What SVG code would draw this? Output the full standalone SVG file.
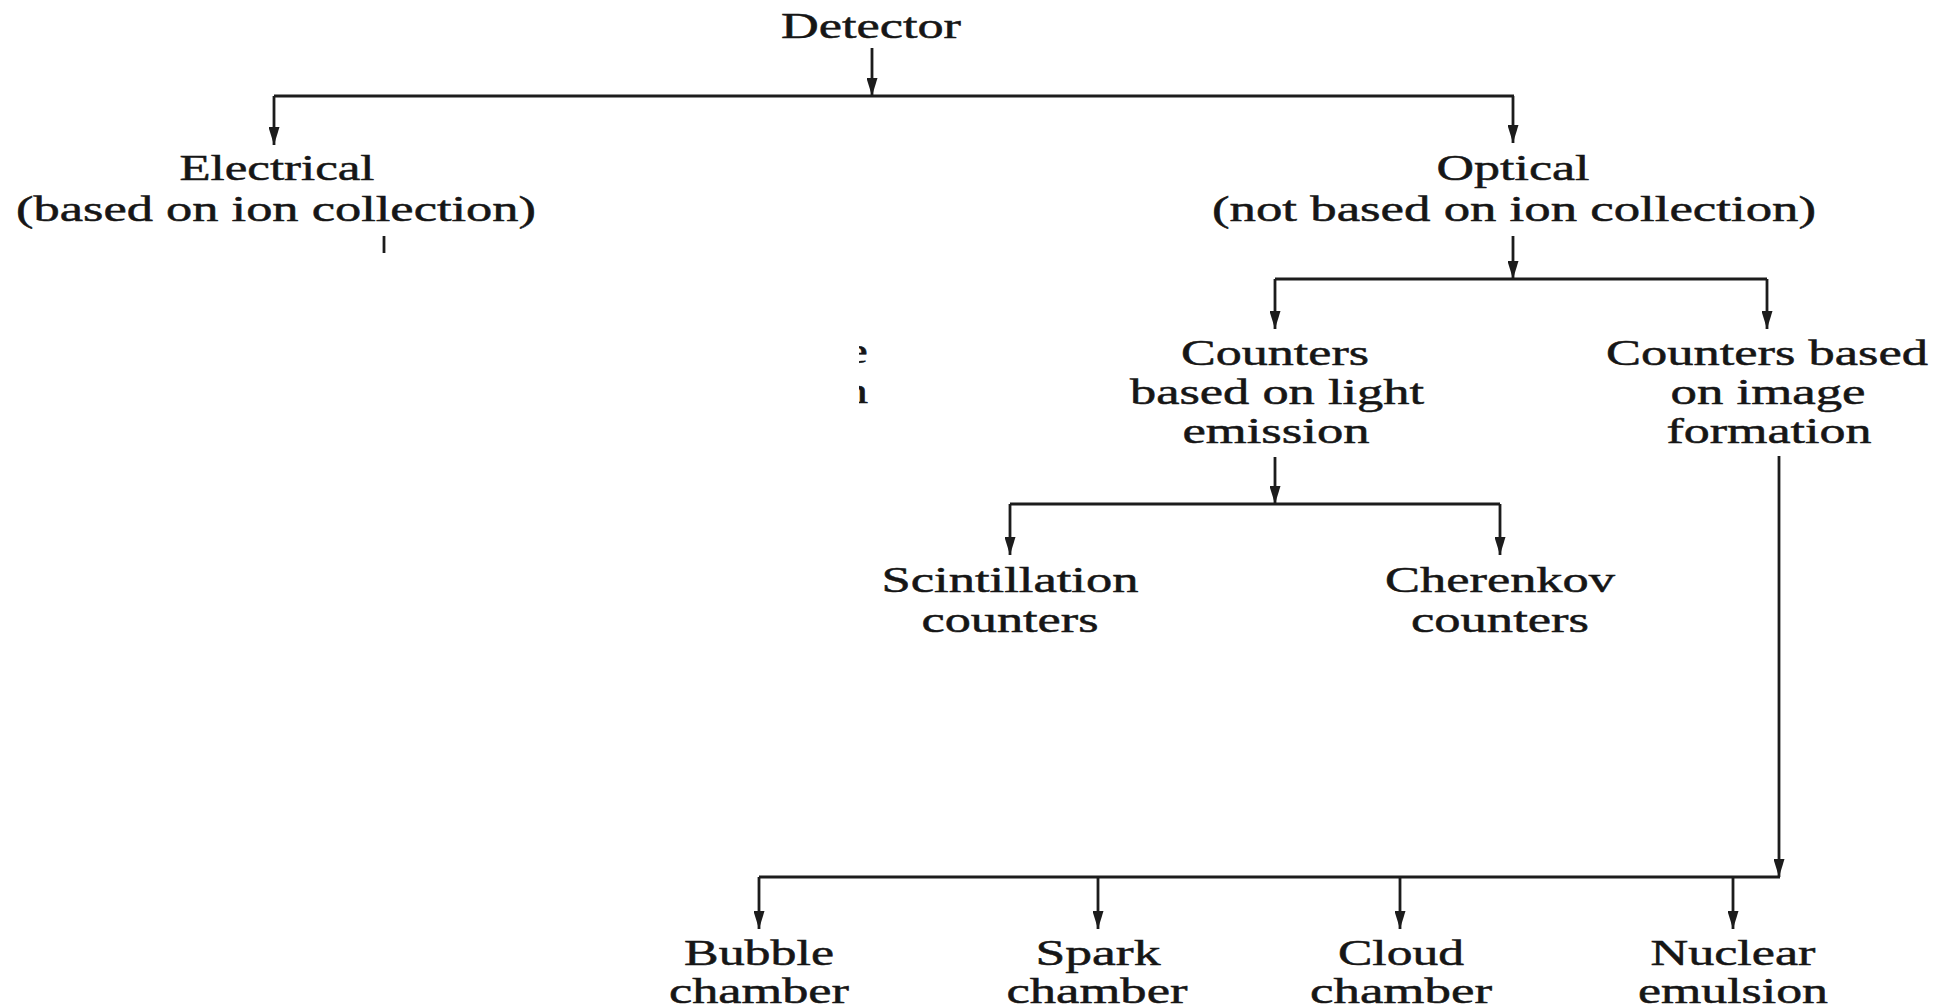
<svg xmlns="http://www.w3.org/2000/svg" width="1937" height="1008" viewBox="0 0 1937 1008">
<style>
text{font-family:"Liberation Serif","Times New Roman",serif;font-size:36px;fill:#161616;stroke:#161616;stroke-width:0.5;text-anchor:middle}
.c line{stroke:#1c1c1c;stroke-width:2.8;fill:none}
.a{marker-end:url(#ah)}
</style>
<defs>
<marker id="ah" markerUnits="userSpaceOnUse" markerWidth="18" markerHeight="11" refX="18" refY="5.5" orient="auto" viewBox="0 0 18 11">
<path d="M0,0 L18,5.5 L0,11 z" fill="#1c1c1c"/>
</marker>
<clipPath id="frag"><rect x="859" y="330" width="14" height="90"/></clipPath>
</defs>
<rect width="1937" height="1008" fill="#ffffff"/>
<g id="connectors" class="c">
<line class="a" x1="872" y1="48" x2="872" y2="96"/>
<line x1="274" y1="96" x2="1514" y2="96"/>
<line class="a" x1="274" y1="96" x2="274" y2="145"/>
<line class="a" x1="1513" y1="96" x2="1513" y2="143"/>
<line x1="384" y1="236" x2="384" y2="253"/>
<line class="a" x1="1513" y1="236" x2="1513" y2="279"/>
<line x1="1275" y1="279" x2="1767" y2="279"/>
<line class="a" x1="1275" y1="279" x2="1275" y2="329"/>
<line class="a" x1="1767" y1="279" x2="1767" y2="329"/>
<line class="a" x1="1275" y1="457" x2="1275" y2="504"/>
<line x1="1010" y1="504" x2="1500" y2="504"/>
<line class="a" x1="1010" y1="504" x2="1010" y2="555"/>
<line class="a" x1="1500" y1="504" x2="1500" y2="555"/>
<line class="a" x1="1779" y1="456" x2="1779" y2="877"/>
<line x1="759" y1="877" x2="1780" y2="877"/>
<line class="a" x1="759" y1="877" x2="759" y2="929"/>
<line class="a" x1="1098" y1="877" x2="1098" y2="929"/>
<line class="a" x1="1400" y1="877" x2="1400" y2="929"/>
<line class="a" x1="1733" y1="877" x2="1733" y2="929"/>
</g>
<g id="detector"><text x="871" y="38" textLength="180" lengthAdjust="spacingAndGlyphs">Detector</text></g>
<g id="electrical">
<text x="277" y="180" textLength="195" lengthAdjust="spacingAndGlyphs">Electrical</text>
<text x="276" y="221" textLength="520" lengthAdjust="spacingAndGlyphs">(based on ion collection)</text>
</g>
<g id="optical">
<text x="1513" y="180" textLength="153" lengthAdjust="spacingAndGlyphs">Optical</text>
<text x="1514" y="221" textLength="604" lengthAdjust="spacingAndGlyphs">(not based on ion collection)</text>
</g>
<g id="fragment" clip-path="url(#frag)">
<text transform="translate(868,363) scale(1.45,1)" style="text-anchor:end">e</text>
<text transform="translate(868,403) scale(1.45,1)" style="text-anchor:end">n</text>
</g>
<g id="light-emission">
<text x="1275" y="365" textLength="188" lengthAdjust="spacingAndGlyphs">Counters</text>
<text x="1277" y="404" textLength="294" lengthAdjust="spacingAndGlyphs">based on light</text>
<text x="1276" y="443" textLength="187" lengthAdjust="spacingAndGlyphs">emission</text>
</g>
<g id="image-formation">
<text x="1767" y="365" textLength="322" lengthAdjust="spacingAndGlyphs">Counters based</text>
<text x="1768" y="404" textLength="195" lengthAdjust="spacingAndGlyphs">on image</text>
<text x="1769" y="443" textLength="205" lengthAdjust="spacingAndGlyphs">formation</text>
</g>
<g id="scintillation">
<text x="1010" y="592" textLength="257" lengthAdjust="spacingAndGlyphs">Scintillation</text>
<text x="1010" y="632" textLength="177" lengthAdjust="spacingAndGlyphs">counters</text>
</g>
<g id="cherenkov">
<text x="1500" y="592" textLength="230" lengthAdjust="spacingAndGlyphs">Cherenkov</text>
<text x="1500" y="632" textLength="178" lengthAdjust="spacingAndGlyphs">counters</text>
</g>
<g id="bubble">
<text x="759" y="965" textLength="150" lengthAdjust="spacingAndGlyphs">Bubble</text>
<text x="759" y="1003" textLength="180" lengthAdjust="spacingAndGlyphs">chamber</text>
</g>
<g id="spark">
<text x="1098" y="965" textLength="125" lengthAdjust="spacingAndGlyphs">Spark</text>
<text x="1097" y="1003" textLength="181" lengthAdjust="spacingAndGlyphs">chamber</text>
</g>
<g id="cloud">
<text x="1401" y="965" textLength="126" lengthAdjust="spacingAndGlyphs">Cloud</text>
<text x="1401" y="1003" textLength="182" lengthAdjust="spacingAndGlyphs">chamber</text>
</g>
<g id="nuclear">
<text x="1733" y="965" textLength="165" lengthAdjust="spacingAndGlyphs">Nuclear</text>
<text x="1733" y="1003" textLength="190" lengthAdjust="spacingAndGlyphs">emulsion</text>
</g>
</svg>
